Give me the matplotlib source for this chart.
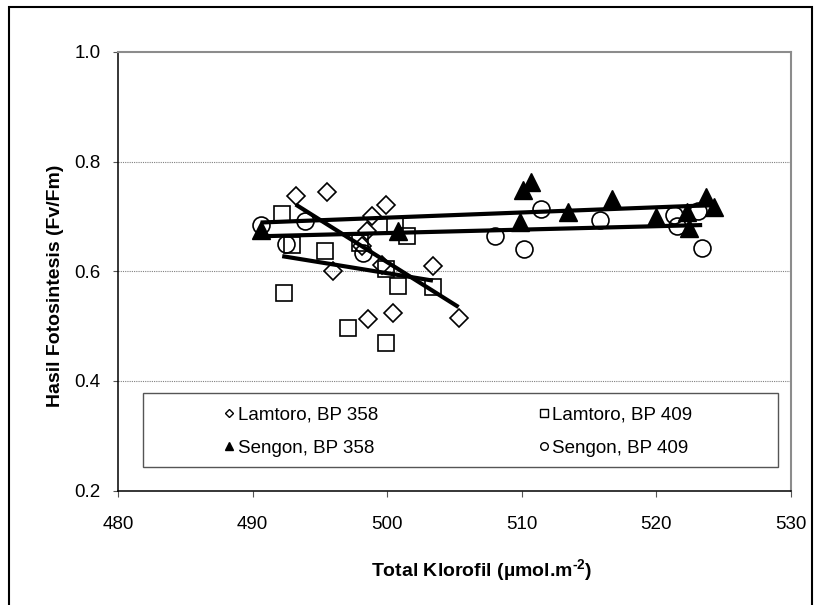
import matplotlib
matplotlib.use("Agg")
import matplotlib.pyplot as plt
import numpy as np
from matplotlib.patches import Rectangle
from matplotlib.lines import Line2D

plt.rcParams['font.family'] = ['Liberation Sans', 'DejaVu Sans']
plt.rcParams['mathtext.fontset'] = 'custom'
plt.rcParams['mathtext.rm'] = 'Liberation Sans:bold'
plt.rcParams['mathtext.bf'] = 'Liberation Sans:bold'

# ---- data ----
lam358_x = [493.2, 495.5, 499.9, 498.9, 498.5, 498.1, 496.0, 499.6, 503.4, 498.6, 500.4, 505.3]
lam358_y = [0.738, 0.745, 0.720, 0.700, 0.673, 0.646, 0.600, 0.612, 0.609, 0.512, 0.524, 0.515]

lam409_x = [492.2, 492.9, 495.4, 498.0, 500.6, 501.5, 499.9, 500.8, 503.4, 492.3, 497.1, 499.9]
lam409_y = [0.705, 0.647, 0.637, 0.651, 0.682, 0.664, 0.605, 0.573, 0.571, 0.560, 0.497, 0.469]

sen358_x = [490.6, 500.8, 509.9, 510.1, 510.7, 513.4, 516.7, 520.0, 522.3, 522.4, 523.7, 524.3]
sen358_y = [0.676, 0.673, 0.690, 0.748, 0.763, 0.709, 0.731, 0.699, 0.709, 0.679, 0.735, 0.717]

sen409_x = [490.6, 493.9, 492.5, 498.2, 508.0, 510.2, 511.4, 515.8, 521.3, 521.5, 523.1, 523.4]
sen409_y = [0.685, 0.691, 0.649, 0.633, 0.665, 0.640, 0.713, 0.693, 0.702, 0.682, 0.710, 0.642]

labels = ["Lamtoro, BP 358", "Lamtoro, BP 409", "Sengon, BP 358", "Sengon, BP 409"]
x_ticks = [480, 490, 500, 510, 520, 530]
y_ticks = [0.2, 0.4, 0.6, 0.8, 1.0]
x_label = r"Total Klorofil (µmol.m$^{\text{-2}}$)"
y_label = "Hasil Fotosintesis (Fv/Fm)"

W, H = 823, 605
fig = plt.figure(figsize=(W / 100, H / 100), dpi=100)
ax = fig.add_axes([118 / W, 1 - 490.5 / H, (791 - 118) / W, (490.5 - 52) / H])

ax.set_xlim(480, 530)
ax.set_ylim(0.2, 1.0)
ax.set_xticks(x_ticks)
ax.set_yticks(y_ticks)
ax.set_yticklabels([f"{v:.1f}" for v in y_ticks])

for yv in y_ticks[1:-1]:
    ax.axhline(yv, color='#808080', lw=0.8, ls=(0, (1, 1)), zorder=0)

for s in ['left', 'bottom']:
    ax.spines[s].set_color('black')
    ax.spines[s].set_linewidth(1.1)
for s in ['top', 'right']:
    ax.spines[s].set_color('#8c8c8c')
    ax.spines[s].set_linewidth(1.5)

ax.tick_params(axis='x', direction='out', length=4.3, width=0.8, color='#555555',
               pad=14.0, labelsize=13.5)
ax.tick_params(axis='y', direction='out', length=3.6, width=0.8, color='#555555',
               pad=9.0, labelsize=13.5)

series = [
    (lam358_x, lam358_y, dict(marker='D', ms=8.7, mfc='none', mec='black', mew=1.2)),
    (lam409_x, lam409_y, dict(marker='s', ms=12.2, mfc='none', mec='black', mew=1.2)),
    (sen358_x, sen358_y, dict(marker='^', ms=12.8, mfc='black', mec='black', mew=1.0)),
    (sen409_x, sen409_y, dict(marker='o', ms=12.2, mfc='none', mec='black', mew=1.2)),
]
for xs, ys, st in series:
    ax.plot(xs, ys, ls='none', zorder=3, **st)

for xs, ys, st in series:
    xa = np.array(xs); ya = np.array(ys)
    k, b = np.polyfit(xa, ya, 1)
    xx = np.array([xa.min(), xa.max()])
    ax.plot(xx, k * xx + b, color='black', lw=3.0, zorder=4, solid_capstyle='butt')

# legend box
ax.add_patch(Rectangle((25 / 673, 0.053), 634.6 / 673, 0.170, transform=ax.transAxes,
                       facecolor='white', edgecolor='#555555', lw=1.0, zorder=5))

handles = []
for xs, ys, st in series:
    st2 = dict(st)
    st2['ms'] = st['ms'] * 0.45
    st2['mew'] = 1.0
    handles.append(Line2D([], [], ls='none', **st2))
order = [0, 2, 1, 3]
leg = ax.legend([handles[i] for i in order], [labels[i] for i in order], ncol=2,
                loc='center', bbox_to_anchor=(0.506, 0.134), frameon=False,
                fontsize=13.5, handlelength=0.5, handletextpad=0.2,
                columnspacing=8.6, labelspacing=0.85, borderpad=0)
leg.set_zorder(6)

ax.set_xlabel(x_label, fontsize=14, fontweight='bold')
ax.xaxis.set_label_coords(0.541, -0.1836)
ax.xaxis.label.set_va('center')
ax.set_ylabel(y_label, fontsize=14, fontweight='bold')
ax.yaxis.set_label_coords(-0.093, 0.466)
ax.yaxis.label.set_va('center')

# outer frame
fig.patches.append(Rectangle((9 / W, -0.02), (812 - 9) / W, 1.02 - 7 / H,
                             transform=fig.transFigure, fill=False,
                             edgecolor='black', lw=1.5))

fig.savefig("out.png", dpi=100)
